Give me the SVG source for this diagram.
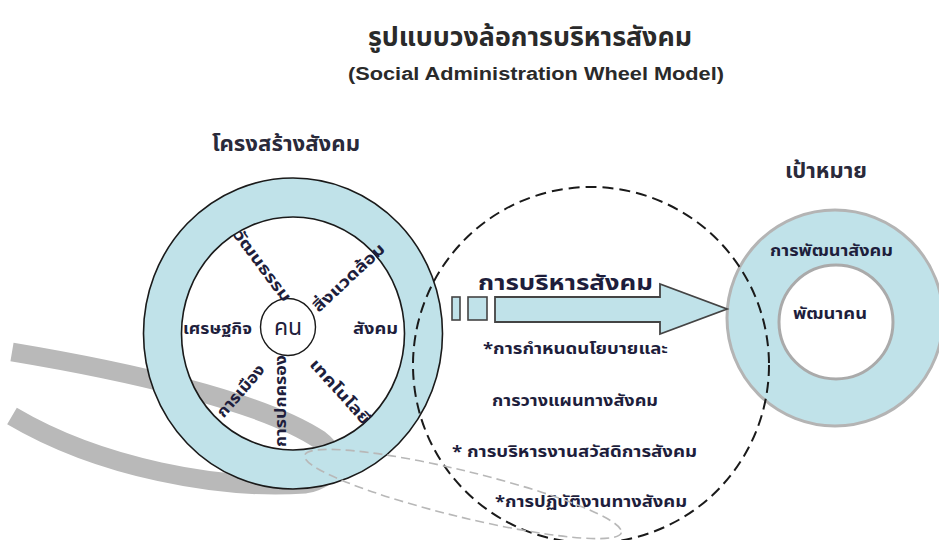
<svg xmlns="http://www.w3.org/2000/svg" width="939" height="540" viewBox="0 0 939 540">
<style>
text{font-family:"Noto Sans Thai","Tahoma","Garuda","Loma","Noto Sans","DejaVu Sans",sans-serif;font-weight:bold;fill:#1e1e3c}
.title{font-size:27px;fill:#2a2a2a}
.sub{font-family:"Liberation Sans",Arial,sans-serif;font-size:18px;fill:#2a2a2a}
.h{font-size:22px;fill:#2a2a3a}
.lbl{font-size:16px}
.blt{font-size:16px}
.ring{fill:#c0e2e9;stroke:#1a1a1a;stroke-width:1.6}
.dash{fill:none;stroke:#1a1a1a;stroke-width:2;stroke-dasharray:11 6}
.ldash{fill:none;stroke:#b8b8b8;stroke-width:1.6;stroke-dasharray:9 5}
</style>
<rect width="939" height="540" fill="#fff"/>
<text class="title" x="530" y="46" text-anchor="middle" textLength="324" lengthAdjust="spacingAndGlyphs">รูปแบบวงล้อการบริหารสังคม</text>
<text class="sub" x="348" y="80" textLength="376" lengthAdjust="spacingAndGlyphs">(Social Administration Wheel Model)</text>
<g id="band">
<path d="M12,352 C120,370 260,400 320,440 C340,455 338,478 305,484 C220,490 100,468 12,416" fill="none" stroke="#b9b9b9" stroke-width="19"/>
</g>
<g id="structure">
<text class="h" x="212" y="151" textLength="148" lengthAdjust="spacingAndGlyphs">โครงสร้างสังคม</text>
<path class="ring" fill-rule="evenodd" d="M143.5,333.5 a149.5,155.5 0 1,0 299,0 a149.5,155.5 0 1,0 -299,0 Z M181.5,333.5 a111.5,116.5 0 1,0 223,0 a111.5,116.5 0 1,0 -223,0 Z"/>
<ellipse cx="288" cy="327" rx="27.5" ry="28.5" fill="#fff" stroke="#1a1a1a" stroke-width="1.4"/>
<text x="288" y="335" text-anchor="middle" style="font-size:23px;font-weight:normal">คน</text>
<text class="lbl" x="183" y="334" textLength="69" lengthAdjust="spacingAndGlyphs">เศรษฐกิจ</text>
<text class="lbl" x="353" y="334" textLength="45" lengthAdjust="spacingAndGlyphs">สังคม</text>
<text class="lbl" text-anchor="middle" dominant-baseline="central" textLength="85" lengthAdjust="spacingAndGlyphs" transform="translate(262,266) rotate(53)">วัฒนธรรม</text>
<text class="lbl" text-anchor="middle" dominant-baseline="central" textLength="92" lengthAdjust="spacingAndGlyphs" transform="translate(349,278) rotate(-43)">สิ่งแวดล้อม</text>
<text class="lbl" text-anchor="middle" dominant-baseline="central" textLength="82" lengthAdjust="spacingAndGlyphs" transform="translate(340,392) rotate(48)">เทคโนโลยี</text>
<text class="lbl" text-anchor="middle" dominant-baseline="central" textLength="64" lengthAdjust="spacingAndGlyphs" transform="translate(241,391) rotate(-49)">การเมือง</text>
<text class="lbl" text-anchor="middle" dominant-baseline="central" textLength="92" lengthAdjust="spacingAndGlyphs" transform="translate(281,401) rotate(-90)">การปกครอง</text>
</g>
<g id="goal">
<text class="h" x="785" y="178" textLength="82" lengthAdjust="spacingAndGlyphs">เป้าหมาย</text>
<circle cx="835" cy="318" r="108" fill="#c0e2e9" stroke="#b4b4b4" stroke-width="3"/>
<circle cx="836" cy="322" r="57" fill="#fff" stroke="#aaaaaa" stroke-width="3"/>
<text class="blt" x="770" y="256" textLength="123" lengthAdjust="spacingAndGlyphs">การพัฒนาสังคม</text>
<text class="blt" x="793" y="319" textLength="74" lengthAdjust="spacingAndGlyphs">พัฒนาคน</text>
</g>
<g id="admin">
<rect x="452" y="297" width="8" height="23" fill="#c0e2e9" stroke="#444" stroke-width="1.6"/>
<rect x="468" y="297" width="19" height="23" fill="#c0e2e9" stroke="#444" stroke-width="1.6"/>
<path d="M495,297 H660 V284 L727,309 L660,334 V322 H495 Z" fill="#c0e2e9" stroke="#444" stroke-width="1.8"/>
<text x="478" y="290" style="font-size:22px" textLength="175" lengthAdjust="spacingAndGlyphs">การบริหารสังคม</text>
<text class="blt" x="483" y="354" textLength="185" lengthAdjust="spacingAndGlyphs">*การกำหนดนโยบายและ</text>
<text class="blt" x="492" y="406" textLength="166" lengthAdjust="spacingAndGlyphs">การวางแผนทางสังคม</text>
<text class="blt" x="452" y="457" textLength="245" lengthAdjust="spacingAndGlyphs">* การบริหารงานสวัสดิการสังคม</text>
<text class="blt" x="495" y="507" textLength="192" lengthAdjust="spacingAndGlyphs">*การปฏิบัติงานทางสังคม</text>
</g>
<g id="connectors">
<circle class="dash" cx="591" cy="365" r="178"/>
<ellipse class="ldash" cx="463" cy="494" rx="163" ry="23" transform="rotate(13.7 463 494)"/>
</g>
</svg>
